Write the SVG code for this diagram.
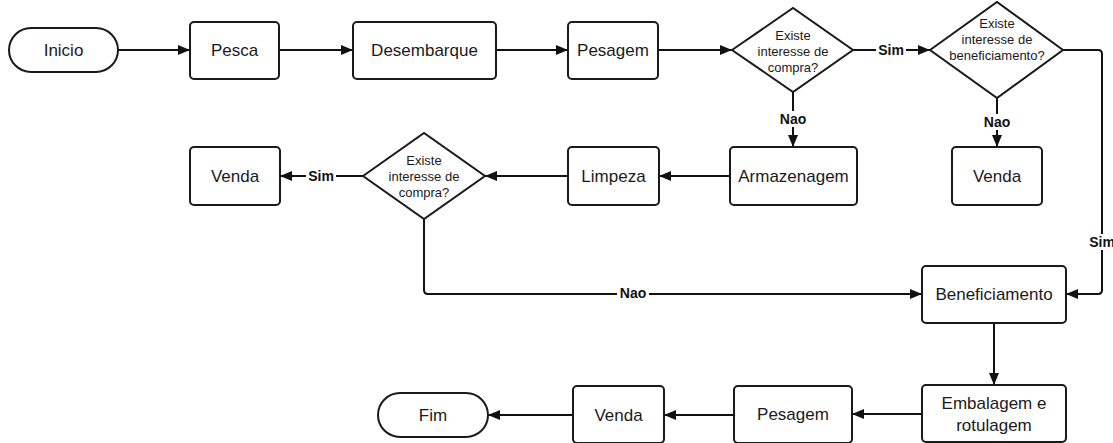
<svg xmlns="http://www.w3.org/2000/svg" width="1113" height="443" viewBox="0 0 1113 443">
<style>
.n{fill:#fff;stroke:#1a1a1a;stroke-width:2}
.t{font-family:"Liberation Sans",Arial,sans-serif;font-size:17px;fill:#1a1a1a;text-anchor:middle;dominant-baseline:central}
.d{font-family:"Liberation Sans",Arial,sans-serif;font-size:13px;fill:#1a1a1a;text-anchor:middle;dominant-baseline:central}
.c{fill:none;stroke:#111;stroke-width:2}
.l{font-family:"Liberation Sans",Arial,sans-serif;font-size:14px;font-weight:bold;fill:#111;text-anchor:middle;dominant-baseline:central}
.lb{fill:#fff}
</style>
<defs>
<marker id="a" viewBox="0 0 12 10" refX="12" refY="5" markerWidth="12" markerHeight="10" markerUnits="userSpaceOnUse" orient="auto">
<path d="M0,0 L12,5 L0,10 z" fill="#111"/>
</marker>
</defs>
<rect width="1113" height="443" fill="#fff"/>
<g id="connectors">
<path class="c" d="M118,50 H190" marker-end="url(#a)"/>
<path class="c" d="M279,50 H353" marker-end="url(#a)"/>
<path class="c" d="M496,50 H568" marker-end="url(#a)"/>
<path class="c" d="M658,50 H732" marker-end="url(#a)"/>
<path class="c" d="M853,50 H930" marker-end="url(#a)"/>
<path class="c" d="M793,92 V147" marker-end="url(#a)"/>
<path class="c" d="M997,98 V147" marker-end="url(#a)"/>
<path class="c" d="M1063,50 H1098 Q1102,50 1102,54 V290 Q1102,294 1098,294 H1066" marker-end="url(#a)"/>
<path class="c" d="M730,176 H659" marker-end="url(#a)"/>
<path class="c" d="M568,176 H485" marker-end="url(#a)"/>
<path class="c" d="M363,176 H280" marker-end="url(#a)"/>
<path class="c" d="M424,219 V290 Q424,294 428,294 H922" marker-end="url(#a)"/>
<path class="c" d="M994,323 V385" stroke-width="1.5" marker-end="url(#a)"/>
<path class="c" d="M922,414 H852" marker-end="url(#a)"/>
<path class="c" d="M734,415 H664" marker-end="url(#a)"/>
<path class="c" d="M573,415 H488" marker-end="url(#a)"/>
<rect class="lb" x="876" y="42" width="30" height="16"/>
<text class="l" x="891" y="50">Sim</text>
<rect class="lb" x="778" y="111" width="30" height="16"/>
<text class="l" x="793" y="119">Nao</text>
<rect class="lb" x="982" y="114" width="30" height="16"/>
<text class="l" x="997" y="122">Nao</text>
<rect class="lb" x="1087" y="234" width="26" height="16"/>
<text class="l" x="1102" y="242">Sim</text>
<rect class="lb" x="306" y="168" width="30" height="16"/>
<text class="l" x="321" y="176">Sim</text>
<rect class="lb" x="617" y="285" width="32" height="16"/>
<text class="l" x="633" y="293">Nao</text>
</g>
<g id="inicio"><rect class="n" x="9" y="28" width="109" height="44" rx="22"/><text class="t" x="63.5" y="50">Inicio</text></g>
<g id="pesca"><rect class="n" x="190" y="22" width="89" height="57" rx="4"/><text class="t" x="234.5" y="50">Pesca</text></g>
<g id="desembarque"><rect class="n" x="353" y="22" width="143" height="57" rx="4"/><text class="t" x="424.5" y="50">Desembarque</text></g>
<g id="pesagem1"><rect class="n" x="568" y="22" width="90" height="57" rx="4"/><text class="t" x="613" y="50">Pesagem</text></g>
<g id="decisao1"><path class="n" d="M732,50 L793,8 L853,50 L793,92 Z"/><text class="d" x="793" y="35">Existe</text><text class="d" x="793" y="51">interesse de</text><text class="d" x="793" y="67">compra?</text></g>
<g id="decisao2"><path class="n" d="M930,50 L997,2 L1063,50 L997,98 Z"/><text class="d" x="997" y="23">Existe</text><text class="d" x="997" y="39">interesse de</text><text class="d" x="997" y="55">beneficiamento?</text></g>
<g id="armazenagem"><rect class="n" x="730" y="147" width="127" height="58" rx="4"/><text class="t" x="793.5" y="176">Armazenagem</text></g>
<g id="venda2"><rect class="n" x="952" y="147" width="90" height="58" rx="4"/><text class="t" x="997" y="176">Venda</text></g>
<g id="limpeza"><rect class="n" x="568" y="147" width="91" height="58" rx="4"/><text class="t" x="613.5" y="176">Limpeza</text></g>
<g id="decisao3"><path class="n" d="M363,176 L424,133 L485,176 L424,219 Z"/><text class="d" x="424" y="160">Existe</text><text class="d" x="424" y="176">interesse de</text><text class="d" x="424" y="192">compra?</text></g>
<g id="venda1"><rect class="n" x="190" y="147" width="90" height="58" rx="4"/><text class="t" x="235" y="176">Venda</text></g>
<g id="beneficiamento"><rect class="n" x="922" y="266" width="144" height="57" rx="4"/><text class="t" x="994" y="294">Beneficiamento</text></g>
<g id="embalagem"><rect class="n" x="922" y="385" width="144" height="57" rx="4"/><text class="t" x="994" y="403">Embalagem e</text><text class="t" x="994" y="425">rotulagem</text></g>
<g id="pesagem2"><rect class="n" x="734" y="386" width="118" height="57" rx="4"/><text class="t" x="793" y="414">Pesagem</text></g>
<g id="venda3"><rect class="n" x="573" y="386" width="91" height="57" rx="4"/><text class="t" x="618.5" y="415">Venda</text></g>
<g id="fim"><rect class="n" x="378" y="393" width="110" height="44" rx="22"/><text class="t" x="433" y="415">Fim</text></g>
</svg>
